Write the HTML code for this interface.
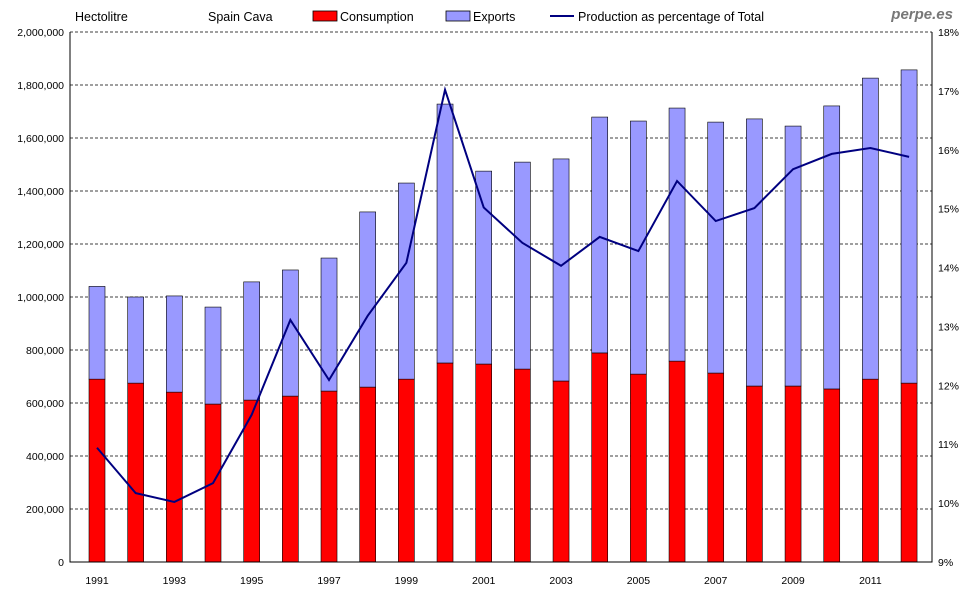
<!DOCTYPE html>
<html><head><meta charset="utf-8"><style>
body{margin:0;background:#fff;font-family:"Liberation Sans",Arial,sans-serif}
svg text{font-family:"Liberation Sans",Arial,sans-serif}
</style></head><body>
<svg id="chart" width="980" height="600" xmlns="http://www.w3.org/2000/svg">
<rect width="980" height="600" fill="#fff"/>
<g id="grid"></g>
<g id="bars"></g>
<g id="line"></g>
<g id="axes"></g>
<text x="75" y="21" font-size="12.5">Hectolitre</text>
<text x="208" y="21" font-size="12.5">Spain Cava</text>
<rect x="313" y="11" width="24" height="10" fill="#ff0000" stroke="#000" stroke-width="0.8"/>
<text x="340" y="21" font-size="12.5">Consumption</text>
<rect x="446" y="11" width="24" height="10" fill="#9999ff" stroke="#000" stroke-width="0.8"/>
<text x="473" y="21" font-size="12.5">Exports</text>
<line x1="550" y1="16" x2="574" y2="16" stroke="#000080" stroke-width="2"/>
<text x="578" y="21" font-size="12.5">Production as percentage of Total</text>
<text x="953" y="19" font-size="15" font-style="italic" font-weight="bold" fill="#777" text-anchor="end">perpe.es</text>
</svg>
<script>
const years=[1991,1992,1993,1994,1995,1996,1997,1998,1999,2000,2001,2002,2003,2004,2005,2006,2007,2008,2009,2010,2011,2012];
const consumption=[690000,675000,641000,596000,611000,626000,645000,660000,690000,751000,747000,728000,683000,789000,709000,758000,713000,664000,664000,653000,690000,675000];
const totals=[1040000,1000000,1004000,962000,1057000,1102000,1147000,1321000,1430000,1728000,1475000,1509000,1521000,1679000,1664000,1713000,1660000,1672000,1645000,1721000,1826000,1857000];
const exportsV=totals.map((t,i)=>t-consumption[i]);
const pct=[10.94,10.17,10.02,10.34,11.50,13.11,12.09,13.18,14.08,17.02,15.02,14.42,14.03,14.52,14.28,15.47,14.79,15.01,15.67,15.93,16.03,15.88];
const leftTicks=[0,200000,400000,600000,800000,1000000,1200000,1400000,1600000,1800000,2000000];
const rightTicks=[9,10,11,12,13,14,15,16,17,18];
const NS="http://www.w3.org/2000/svg";
const L=70,R=932,T=32,B=562;
const y=v=>B-(v/2000000)*(B-T);
const y2=p=>B-((p-9)/9)*(B-T);
const x0=97,step=38.67;
const x=i=>x0+step*i;
function mk(tag,attrs,parent){const e=document.createElementNS(NS,tag);for(const k in attrs)e.setAttribute(k,attrs[k]);parent.appendChild(e);return e;}
const grid=document.getElementById('grid'),bars=document.getElementById('bars'),line=document.getElementById('line'),axes=document.getElementById('axes');
leftTicks.forEach(v=>{
 if(v>0){const g=mk('line',{x1:L,x2:R,y1:y(v),y2:y(v),stroke:'#000','stroke-width':0.8,'stroke-dasharray':'3,2'},grid);
 
 }
 const t=mk('text',{x:L-6,y:y(v)+4,'font-size':10.5,'text-anchor':'end'},axes);t.textContent=v.toLocaleString('en-US');
 
 
});
rightTicks.forEach(p=>{
 const t=mk('text',{x:R+6,y:y2(p)+4,'font-size':10.5},axes);t.textContent=p+'%';
 
 
});
const bw=16;
years.forEach((yr,i)=>{
 const c=mk('rect',{x:x(i)-bw/2,y:y(consumption[i]),width:bw,height:B-y(consumption[i]),fill:'#ff0000',stroke:'#000','stroke-width':0.6},bars);
 
 
 const top=consumption[i]+exportsV[i];
 const e=mk('rect',{x:x(i)-bw/2,y:y(top),width:bw,height:y(consumption[i])-y(top),fill:'#9999ff',stroke:'#000','stroke-width':0.6},bars);
 
 
 if(i%2===0){const t=mk('text',{x:x(i),y:584,'font-size':10.5,'text-anchor':'middle'},axes);t.textContent=yr;
 
 }
});
const pl=mk('polyline',{points:pct.map((p,i)=>x(i)+','+y2(p)).join(' '),fill:'none',stroke:'#000080','stroke-width':2},line);


const fr=mk('path',{d:`M${L},${T}V${B}H${R}V${T}`,fill:'none',stroke:'#000','stroke-width':1},axes);


</script>
</body></html>
